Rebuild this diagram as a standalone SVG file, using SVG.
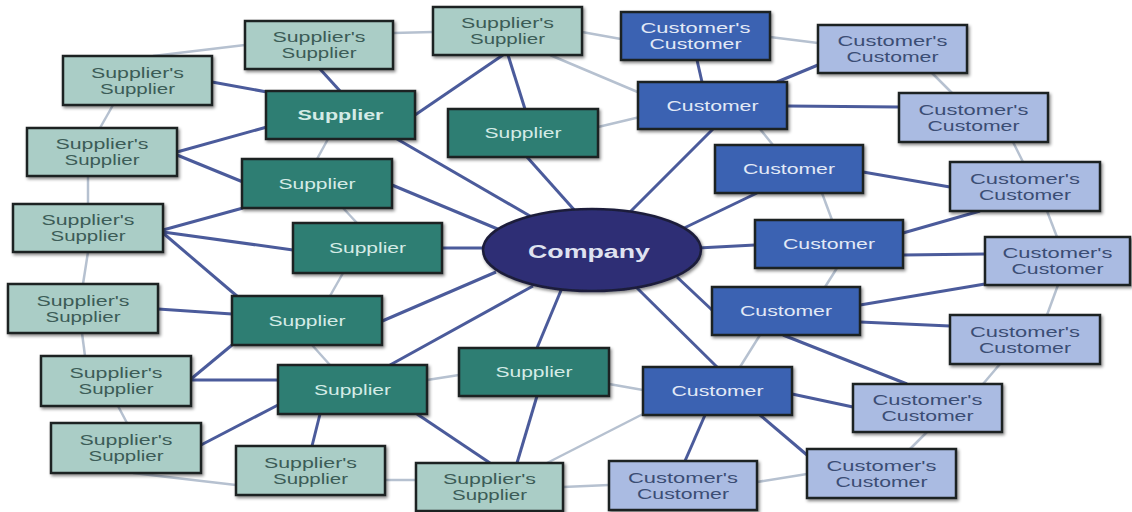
<svg xmlns="http://www.w3.org/2000/svg" width="1132" height="512" viewBox="0 0 1132 512">
<defs>
<filter id="sh" x="-10%" y="-10%" width="125%" height="135%">
<feDropShadow dx="1.5" dy="2" stdDeviation="1.5" flood-color="#000" flood-opacity="0.45"/>
</filter>
<style>
.bx{stroke:#1d2323;stroke-width:2.5;filter:url(#sh)}
.ss{fill:#aacdc6}
.sp{fill:#2f7e73}
.cu{fill:#3b62b2}
.cc{fill:#aabbe2}
text{font-family:"Liberation Sans",Arial,sans-serif;font-size:14px;text-anchor:middle}
.tss{fill:#3c5c57}
.tsp{fill:#d4ebe6}
.tcu{fill:#e2e9f6}
.tcc{fill:#3b4d74}
.b{font-weight:bold}
.dk{stroke:#4b5b9b;stroke-width:3;fill:none}
.lt{stroke:#b6c1d0;stroke-width:2.5;fill:none}
</style>
</defs>
<rect width="1132" height="512" fill="#ffffff"/>
<g id="connectors">
<g class="lt">
<line x1="153" y1="56" x2="245" y2="45"/>
<line x1="393" y1="33" x2="433" y2="32"/>
<line x1="582" y1="32" x2="621" y2="39"/>
<line x1="550" y1="55" x2="640" y2="93"/>
<line x1="598" y1="127" x2="640" y2="117"/>
<line x1="770" y1="37" x2="818" y2="43"/>
<line x1="932" y1="73" x2="952" y2="93"/>
<line x1="1013" y1="142" x2="1023" y2="162"/>
<line x1="1047" y1="211" x2="1057" y2="237"/>
<line x1="1058" y1="285" x2="1047" y2="315"/>
<line x1="1000" y1="364" x2="983" y2="384"/>
<line x1="927" y1="432" x2="910" y2="449"/>
<line x1="807" y1="474" x2="757" y2="482"/>
<line x1="609" y1="485" x2="563" y2="487"/>
<line x1="416" y1="480" x2="385" y2="480"/>
<line x1="236" y1="485" x2="133" y2="473"/>
<line x1="127" y1="423" x2="118" y2="406"/>
<line x1="85" y1="356" x2="82" y2="333"/>
<line x1="83" y1="284" x2="88" y2="252"/>
<line x1="88" y1="204" x2="88" y2="176"/>
<line x1="100" y1="128" x2="113" y2="105"/>
<line x1="328" y1="139" x2="317" y2="159"/>
<line x1="343" y1="208" x2="357" y2="223"/>
<line x1="343" y1="273" x2="330" y2="296"/>
<line x1="312" y1="345" x2="330" y2="365"/>
<line x1="427" y1="380" x2="459" y2="375"/>
<line x1="609" y1="384" x2="643" y2="390"/>
<line x1="547" y1="463" x2="643" y2="414"/>
<line x1="740" y1="367" x2="760" y2="335"/>
<line x1="825" y1="287" x2="837" y2="268"/>
<line x1="822" y1="193" x2="832" y2="220"/>
<line x1="760" y1="129" x2="773" y2="145"/>
</g>
<g class="dk">
<line x1="212" y1="82" x2="267" y2="92"/>
<line x1="320" y1="69" x2="340" y2="91"/>
<line x1="177" y1="152" x2="267" y2="127"/>
<line x1="177" y1="155" x2="243" y2="182"/>
<line x1="163" y1="230" x2="243" y2="208"/>
<line x1="163" y1="232" x2="293" y2="250"/>
<line x1="163" y1="233" x2="238" y2="297"/>
<line x1="158" y1="309" x2="232" y2="314"/>
<line x1="232" y1="345" x2="191" y2="379"/>
<line x1="191" y1="380" x2="278" y2="380"/>
<line x1="201" y1="445" x2="278" y2="405"/>
<line x1="320" y1="414" x2="312" y2="446"/>
<line x1="417" y1="414" x2="490" y2="463"/>
<line x1="537" y1="396" x2="517" y2="463"/>
<line x1="503" y1="55" x2="415" y2="115"/>
<line x1="508" y1="55" x2="525" y2="109"/>
<line x1="697" y1="60" x2="702" y2="82"/>
<line x1="777" y1="82" x2="818" y2="65"/>
<line x1="787" y1="106" x2="899" y2="107"/>
<line x1="863" y1="172" x2="950" y2="187"/>
<line x1="903" y1="233" x2="980" y2="211"/>
<line x1="903" y1="255" x2="985" y2="254"/>
<line x1="860" y1="305" x2="985" y2="284"/>
<line x1="860" y1="322" x2="950" y2="326"/>
<line x1="783" y1="335" x2="907" y2="384"/>
<line x1="792" y1="394" x2="853" y2="407"/>
<line x1="760" y1="415" x2="807" y2="455"/>
<line x1="705" y1="415" x2="685" y2="461"/>
<line x1="397" y1="139" x2="530" y2="216"/>
<line x1="392" y1="185" x2="500" y2="230"/>
<line x1="442" y1="248" x2="485" y2="248"/>
<line x1="527" y1="157" x2="577" y2="213"/>
<line x1="380" y1="322" x2="496" y2="272"/>
<line x1="390" y1="365" x2="533" y2="286"/>
<line x1="537" y1="348" x2="562" y2="288"/>
<line x1="717" y1="367" x2="635" y2="286"/>
<line x1="712" y1="310" x2="677" y2="277"/>
<line x1="755" y1="245" x2="698" y2="248"/>
<line x1="757" y1="193" x2="680" y2="230"/>
<line x1="713" y1="129" x2="628" y2="214"/>
</g>
</g>
<g id="company">
<ellipse cx="592" cy="250" rx="109" ry="41" fill="#2d2f74" stroke="#1d1f3a" stroke-width="2.5" filter="url(#sh)"/>
<text x="589" y="258" class="b" style="font-size:18px;fill:#dfe2f0" textLength="122" lengthAdjust="spacingAndGlyphs">Company</text>
</g>
<g id="ss1"><rect class="bx ss" x="245" y="21" width="148" height="48"/><text class="tss" x="319" y="42" textLength="93" lengthAdjust="spacingAndGlyphs">Supplier's</text><text class="tss" x="319" y="58" textLength="75" lengthAdjust="spacingAndGlyphs">Supplier</text></g>
<g id="ss2"><rect class="bx ss" x="63" y="56" width="149" height="49"/><text class="tss" x="137.5" y="77.5" textLength="93" lengthAdjust="spacingAndGlyphs">Supplier's</text><text class="tss" x="137.5" y="93.5" textLength="75" lengthAdjust="spacingAndGlyphs">Supplier</text></g>
<g id="ss3"><rect class="bx ss" x="27" y="128" width="150" height="48"/><text class="tss" x="102" y="149" textLength="93" lengthAdjust="spacingAndGlyphs">Supplier's</text><text class="tss" x="102" y="165" textLength="75" lengthAdjust="spacingAndGlyphs">Supplier</text></g>
<g id="ss4"><rect class="bx ss" x="13" y="204" width="150" height="48"/><text class="tss" x="88" y="225" textLength="93" lengthAdjust="spacingAndGlyphs">Supplier's</text><text class="tss" x="88" y="241" textLength="75" lengthAdjust="spacingAndGlyphs">Supplier</text></g>
<g id="ss5"><rect class="bx ss" x="433" y="7" width="149" height="48"/><text class="tss" x="507.5" y="28" textLength="93" lengthAdjust="spacingAndGlyphs">Supplier's</text><text class="tss" x="507.5" y="44" textLength="75" lengthAdjust="spacingAndGlyphs">Supplier</text></g>
<g id="ss6"><rect class="bx ss" x="8" y="284" width="150" height="49"/><text class="tss" x="83" y="305.5" textLength="93" lengthAdjust="spacingAndGlyphs">Supplier's</text><text class="tss" x="83" y="321.5" textLength="75" lengthAdjust="spacingAndGlyphs">Supplier</text></g>
<g id="ss7"><rect class="bx ss" x="41" y="356" width="150" height="50"/><text class="tss" x="116" y="378" textLength="93" lengthAdjust="spacingAndGlyphs">Supplier's</text><text class="tss" x="116" y="394" textLength="75" lengthAdjust="spacingAndGlyphs">Supplier</text></g>
<g id="ss8"><rect class="bx ss" x="51" y="423" width="150" height="50"/><text class="tss" x="126" y="445" textLength="93" lengthAdjust="spacingAndGlyphs">Supplier's</text><text class="tss" x="126" y="461" textLength="75" lengthAdjust="spacingAndGlyphs">Supplier</text></g>
<g id="ss9"><rect class="bx ss" x="236" y="446" width="149" height="49"/><text class="tss" x="310.5" y="467.5" textLength="93" lengthAdjust="spacingAndGlyphs">Supplier's</text><text class="tss" x="310.5" y="483.5" textLength="75" lengthAdjust="spacingAndGlyphs">Supplier</text></g>
<g id="ss10"><rect class="bx ss" x="416" y="463" width="147" height="48"/><text class="tss" x="489.5" y="484" textLength="93" lengthAdjust="spacingAndGlyphs">Supplier's</text><text class="tss" x="489.5" y="500" textLength="75" lengthAdjust="spacingAndGlyphs">Supplier</text></g>
<g id="supA"><rect class="bx sp" x="266" y="91" width="149" height="48"/><text class="tsp b" x="340.5" y="120" textLength="86" lengthAdjust="spacingAndGlyphs">Supplier</text></g>
<g id="supB"><rect class="bx sp" x="242" y="159" width="150" height="49"/><text class="tsp" x="317" y="188.5" textLength="77" lengthAdjust="spacingAndGlyphs">Supplier</text></g>
<g id="supC"><rect class="bx sp" x="293" y="223" width="149" height="50"/><text class="tsp" x="367.5" y="253" textLength="77" lengthAdjust="spacingAndGlyphs">Supplier</text></g>
<g id="supD"><rect class="bx sp" x="448" y="109" width="150" height="48"/><text class="tsp" x="523" y="138" textLength="77" lengthAdjust="spacingAndGlyphs">Supplier</text></g>
<g id="supE"><rect class="bx sp" x="459" y="348" width="150" height="48"/><text class="tsp" x="534" y="377" textLength="77" lengthAdjust="spacingAndGlyphs">Supplier</text></g>
<g id="supF"><rect class="bx sp" x="278" y="365" width="149" height="49"/><text class="tsp" x="352.5" y="394.5" textLength="77" lengthAdjust="spacingAndGlyphs">Supplier</text></g>
<g id="supG"><rect class="bx sp" x="232" y="296" width="150" height="49"/><text class="tsp" x="307" y="325.5" textLength="77" lengthAdjust="spacingAndGlyphs">Supplier</text></g>
<g id="cusA"><rect class="bx cu" x="638" y="82" width="149" height="47"/><text class="tcu" x="712.5" y="110.5" textLength="92" lengthAdjust="spacingAndGlyphs">Customer</text></g>
<g id="cusB"><rect class="bx cu" x="715" y="145" width="148" height="48"/><text class="tcu" x="789" y="174" textLength="92" lengthAdjust="spacingAndGlyphs">Customer</text></g>
<g id="cusC"><rect class="bx cu" x="755" y="220" width="148" height="48"/><text class="tcu" x="829" y="249" textLength="92" lengthAdjust="spacingAndGlyphs">Customer</text></g>
<g id="cusD"><rect class="bx cu" x="712" y="287" width="148" height="48"/><text class="tcu" x="786" y="316" textLength="92" lengthAdjust="spacingAndGlyphs">Customer</text></g>
<g id="cusE"><rect class="bx cu" x="643" y="367" width="149" height="48"/><text class="tcu" x="717.5" y="396" textLength="92" lengthAdjust="spacingAndGlyphs">Customer</text></g>
<g id="cc1"><rect class="bx cu" x="621" y="12" width="149" height="48"/><text class="tcu" x="695.5" y="33" textLength="110" lengthAdjust="spacingAndGlyphs">Customer's</text><text class="tcu" x="695.5" y="49" textLength="92" lengthAdjust="spacingAndGlyphs">Customer</text></g>
<g id="cc2"><rect class="bx cc" x="818" y="25" width="149" height="48"/><text class="tcc" x="892.5" y="46" textLength="110" lengthAdjust="spacingAndGlyphs">Customer's</text><text class="tcc" x="892.5" y="62" textLength="92" lengthAdjust="spacingAndGlyphs">Customer</text></g>
<g id="cc3"><rect class="bx cc" x="899" y="93" width="149" height="49"/><text class="tcc" x="973.5" y="114.5" textLength="110" lengthAdjust="spacingAndGlyphs">Customer's</text><text class="tcc" x="973.5" y="130.5" textLength="92" lengthAdjust="spacingAndGlyphs">Customer</text></g>
<g id="cc4"><rect class="bx cc" x="950" y="162" width="150" height="49"/><text class="tcc" x="1025" y="183.5" textLength="110" lengthAdjust="spacingAndGlyphs">Customer's</text><text class="tcc" x="1025" y="199.5" textLength="92" lengthAdjust="spacingAndGlyphs">Customer</text></g>
<g id="cc5"><rect class="bx cc" x="985" y="237" width="145" height="48"/><text class="tcc" x="1057.5" y="258" textLength="110" lengthAdjust="spacingAndGlyphs">Customer's</text><text class="tcc" x="1057.5" y="274" textLength="92" lengthAdjust="spacingAndGlyphs">Customer</text></g>
<g id="cc6"><rect class="bx cc" x="950" y="315" width="150" height="49"/><text class="tcc" x="1025" y="336.5" textLength="110" lengthAdjust="spacingAndGlyphs">Customer's</text><text class="tcc" x="1025" y="352.5" textLength="92" lengthAdjust="spacingAndGlyphs">Customer</text></g>
<g id="cc7"><rect class="bx cc" x="853" y="384" width="149" height="48"/><text class="tcc" x="927.5" y="405" textLength="110" lengthAdjust="spacingAndGlyphs">Customer's</text><text class="tcc" x="927.5" y="421" textLength="92" lengthAdjust="spacingAndGlyphs">Customer</text></g>
<g id="cc8"><rect class="bx cc" x="807" y="449" width="149" height="49"/><text class="tcc" x="881.5" y="470.5" textLength="110" lengthAdjust="spacingAndGlyphs">Customer's</text><text class="tcc" x="881.5" y="486.5" textLength="92" lengthAdjust="spacingAndGlyphs">Customer</text></g>
<g id="cc9"><rect class="bx cc" x="609" y="461" width="148" height="49"/><text class="tcc" x="683" y="482.5" textLength="110" lengthAdjust="spacingAndGlyphs">Customer's</text><text class="tcc" x="683" y="498.5" textLength="92" lengthAdjust="spacingAndGlyphs">Customer</text></g>
</svg>
